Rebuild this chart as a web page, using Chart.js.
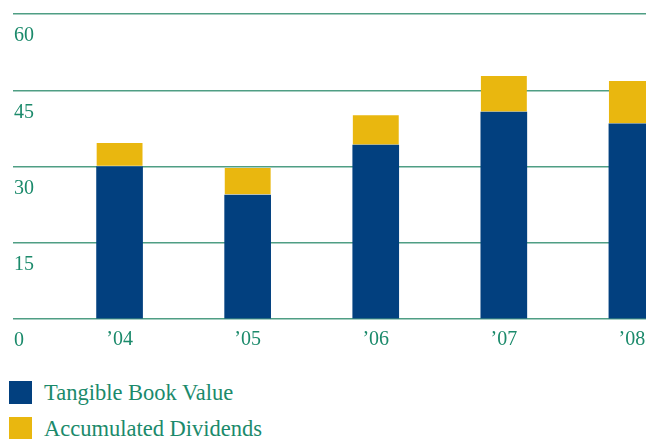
<!DOCTYPE html>
<html lang="en">
<head>
    <meta charset="UTF-8">
    <title>Tangible Book Value and Accumulated Dividends</title>
    <script src="https://cdn.jsdelivr.net/npm/chart.js"></script>
    <style>
        body {
            margin: 0;
            padding: 0;
            background: #ffffff;
            width: 646px;
            height: 439px;
            overflow: hidden;
            font-family: 'Liberation Serif', serif;
        }

        .chart-box {
            position: relative;
            width: 646px;
            height: 361px;
        }

        #legend {
            margin: 20px 0 0 9px;
        }

        .legend-row {
            display: flex;
            align-items: center;
            height: 23px;
            margin-bottom: 13px;
        }

        .legend-row span.swatch {
            width: 23px;
            height: 23px;
            margin-right: 12px;
        }

        .legend-row span.text {
            font-size: 22.5px;
            color: #1b8a6b;
        }
    </style>
</head>
<body>
    <div class="chart-box">
        <canvas id="chart"></canvas>
    </div>
    <div id="legend"></div>

    <script>
        // data
        const years = ['\u201904', '\u201905', '\u201906', '\u201907', '\u201908'];
        const tangibleBookValue = [30.0, 24.4, 34.2, 40.7, 38.4];
        const accumulatedDividends = [4.6, 5.3, 5.9, 7.1, 8.4];
        const yTicks = [0, 15, 30, 45, 60];

        const green = '#1b8a6b';
        const gridGreen = '#4f9e84';
        const navy = '#02407f';
        const gold = '#e9b70f';

        const points = arr => arr.map((v, i) => ({ x: i, y: v }));

        const ctx = document.getElementById('chart').getContext('2d');
        const chart = new Chart(ctx, {
            type: 'bar',
            data: {
                datasets: [
                    {
                        label: 'Tangible Book Value',
                        data: points(tangibleBookValue),
                        backgroundColor: navy,
                        borderWidth: 0,
                        barThickness: 46
                    },
                    {
                        label: 'Accumulated Dividends',
                        data: points(accumulatedDividends),
                        backgroundColor: gold,
                        borderColor: '#ffffff',
                        borderWidth: { top: 0, left: 0, right: 0, bottom: 1 },
                        borderSkipped: false,
                        barThickness: 46
                    }
                ]
            },
            options: {
                responsive: true,
                maintainAspectRatio: false,
                animation: false,
                layout: {
                    padding: { top: 14, left: 11, right: 0, bottom: 0 }
                },
                plugins: {
                    legend: { display: false },
                    tooltip: { enabled: false }
                },
                scales: {
                    x: {
                        type: 'linear',
                        stacked: true,
                        offset: false,
                        min: -0.832,
                        max: 4.11,
                        grid: { display: false, drawTicks: false },
                        border: { display: false },
                        afterBuildTicks: scale => {
                            scale.ticks = years.map((_, i) => ({ value: i }));
                        },
                        afterFit: scale => {
                            // let the last label run to the edge like the original
                            scale.paddingLeft = 0;
                            scale.paddingRight = 0;
                        },
                        ticks: {
                            padding: 9,
                            color: green,
                            font: { family: 'Liberation Serif', size: 20 },
                            maxRotation: 0,
                            callback: value => years[value]
                        }
                    },
                    y: {
                        stacked: true,
                        min: 0,
                        max: 60,
                        afterBuildTicks: scale => {
                            scale.ticks = yTicks.map(v => ({ value: v }));
                        },
                        grid: {
                            color: gridGreen,
                            lineWidth: 1.5,
                            drawTicks: false
                        },
                        border: { display: false },
                        ticks: {
                            mirror: true,
                            padding: 1,
                            labelOffset: 22,
                            color: green,
                            font: { family: 'Liberation Serif', size: 20 }
                        }
                    }
                }
            }
        });

        // vertical legend under the chart
        const legend = document.getElementById('legend');
        chart.data.datasets.forEach(ds => {
            const row = document.createElement('div');
            row.className = 'legend-row';
            row.innerHTML = '<span class="swatch" style="background:' + ds.backgroundColor + '"></span>' +
                '<span class="text">' + ds.label + '</span>';
            legend.appendChild(row);
        });
    </script>
</body>
</html>
